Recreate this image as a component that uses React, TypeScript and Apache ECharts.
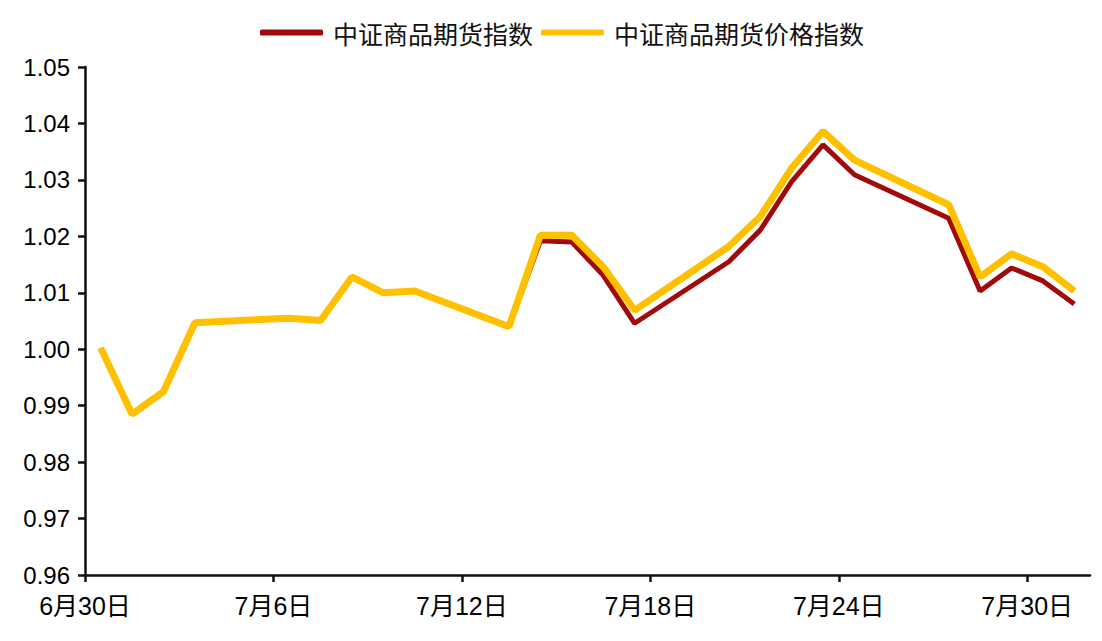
import React, { useEffect, useRef } from "react";
import * as echarts from "echarts";

// Trading days shown on the chart (2020)
const dates = [
  "2020-06-30", "2020-07-01", "2020-07-02", "2020-07-03",
  "2020-07-06", "2020-07-07", "2020-07-08", "2020-07-09", "2020-07-10",
  "2020-07-13", "2020-07-14", "2020-07-15", "2020-07-16", "2020-07-17",
  "2020-07-20", "2020-07-21", "2020-07-22", "2020-07-23", "2020-07-24",
  "2020-07-27", "2020-07-28", "2020-07-29", "2020-07-30", "2020-07-31",
];

// 中证商品期货指数 (normalised)
const futuresIndex = [
  1.0002, 0.9885, 0.9925, 1.0047,
  1.0055, 1.0051, 1.0128, 1.0100, 1.0103,
  1.0040, 1.0192, 1.0190, 1.0131, 1.0046,
  1.0155, 1.0211, 1.0297, 1.0362, 1.0309,
  1.0232, 1.0103, 1.0144, 1.0121, 1.0080,
];

// 中证商品期货价格指数 (normalised)
const priceIndex = [
  1.0002, 0.9885, 0.9925, 1.0047,
  1.0055, 1.0051, 1.0128, 1.0100, 1.0103,
  1.0040, 1.0202, 1.0202, 1.0146, 1.0069,
  1.0182, 1.0235, 1.0321, 1.0386, 1.0335,
  1.0256, 1.0128, 1.0169, 1.0146, 1.0103,
];

const seriesNames = ["中证商品期货指数", "中证商品期货价格指数"];
const tickDays = [0, 6, 12, 18, 24, 30];

const DAY = 86400000;
const baseTime = Date.UTC(2020, 5, 30);

// x position of each trading day: days since 6/30, placed at mid-day
const dayPos = (s: string) => {
  const [y, m, d] = s.split("-").map(Number);
  return (Date.UTC(y, m - 1, d) - baseTime) / DAY + 0.5;
};

const dayLabel = (v: number) => {
  const t = new Date(baseTime + Math.round(v) * DAY);
  return `${t.getUTCMonth() + 1}月${t.getUTCDate()}日`;
};

const axisFont = "'Liberation Sans', Arial, 'Noto Sans CJK SC', sans-serif";

export default function App() {
  const ref = useRef<HTMLDivElement>(null);

  useEffect(() => {
    if (!ref.current) return;
    const chart = echarts.init(ref.current, undefined, { renderer: "svg" });
    const xs = dates.map(dayPos);
    chart.setOption({
      animation: false,
      backgroundColor: "#ffffff",
      legend: {
        top: 15,
        left: 255,
        itemWidth: 63,
        itemHeight: 6,
        itemGap: 8,
        icon: "roundRect",
        textStyle: {
          fontFamily: "'Noto Sans CJK SC', sans-serif",
          fontSize: 25,
          color: "#111",
          padding: [0, 0, 0, 5],
        },
        data: seriesNames,
      },
      grid: { left: 85, right: 12, top: 67, bottom: 66, containLabel: false },
      xAxis: {
        type: "value",
        min: 0,
        max: 32,
        interval: 6,
        splitLine: { show: false },
        axisLine: { show: true, lineStyle: { color: "#111", width: 2.5 } },
        axisTick: {
          show: true,
          length: 7,
          customValues: tickDays,
          lineStyle: { color: "#111", width: 2.5 },
        },
        axisLabel: {
          customValues: tickDays,
          formatter: (v: number) => dayLabel(v),
          fontFamily: axisFont,
          fontSize: 25,
          color: "#000",
          margin: 18,
        },
      },
      yAxis: {
        type: "value",
        min: 0.96,
        max: 1.05,
        interval: 0.01,
        splitLine: { show: false },
        axisLine: { show: true, lineStyle: { color: "#111", width: 2.5 } },
        axisTick: { show: true, length: 7, lineStyle: { color: "#111", width: 2.5 } },
        axisLabel: {
          formatter: (v: number) => v.toFixed(2),
          fontFamily: axisFont,
          fontSize: 24,
          color: "#000",
          margin: 15,
        },
      },
      series: [
        {
          name: seriesNames[0],
          type: "line",
          data: xs.map((x, i) => [x, futuresIndex[i]]),
          showSymbol: false,
          symbol: "none",
          lineStyle: { color: "#A00A0A", width: 5 },
          itemStyle: { color: "#A00A0A" },
          z: 2,
        },
        {
          name: seriesNames[1],
          type: "line",
          data: xs.map((x, i) => [x, priceIndex[i]]),
          showSymbol: false,
          symbol: "none",
          lineStyle: { color: "#FFC000", width: 7 },
          itemStyle: { color: "#FFC000" },
          z: 3,
        },
      ],
    });
    return () => chart.dispose();
  }, []);

  return (
    <div
      ref={ref}
      style={{ position: "fixed", left: 0, top: 0, width: 1102, height: 641 }}
    />
  );
}
